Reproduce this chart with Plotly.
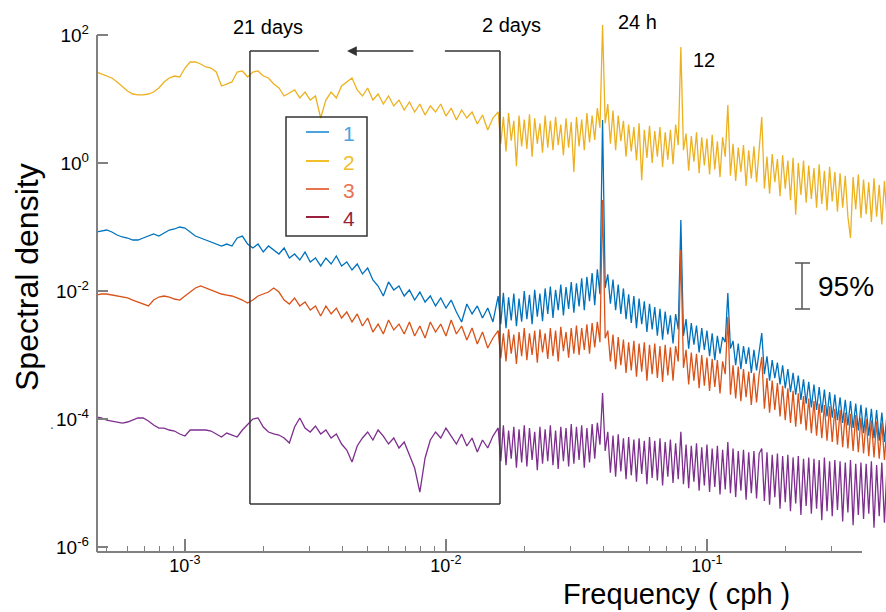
import numpy as np
import plotly.graph_objects as go

# ---------------- data (log10 units) ----------------
# frequency grid, log10(cph): low-frequency part and dense high-frequency part
log_freq_low = [
    -3.34, -3.32, -3.30, -3.28, -3.26, -3.24, -3.22, -3.20, -3.18, -3.16,
    -3.14, -3.12, -3.10, -3.08, -3.06, -3.04, -3.02, -3.00, -2.98, -2.96,
    -2.94, -2.92, -2.90, -2.88, -2.86, -2.84, -2.82, -2.80, -2.78, -2.76,
    -2.74, -2.72, -2.70, -2.68, -2.66, -2.64, -2.62, -2.60, -2.58, -2.56,
    -2.54, -2.52, -2.50, -2.48, -2.46, -2.44, -2.42, -2.40, -2.38, -2.36,
    -2.34, -2.32, -2.30, -2.28, -2.26, -2.24, -2.22, -2.20, -2.18, -2.16,
    -2.14, -2.12, -2.10, -2.08, -2.06, -2.04, -2.02, -2.00, -1.98, -1.96,
    -1.94, -1.92, -1.90, -1.88, -1.86, -1.84, -1.82,
]
log_freq_high = [
    -1.80, -1.79, -1.78, -1.77, -1.76, -1.75, -1.74, -1.73, -1.72, -1.71,
    -1.70, -1.69, -1.68, -1.67, -1.66, -1.65, -1.64, -1.63, -1.62, -1.61,
    -1.60, -1.59, -1.58, -1.57, -1.56, -1.55, -1.54, -1.53, -1.52, -1.51,
    -1.50, -1.49, -1.48, -1.47, -1.46, -1.45, -1.44, -1.43, -1.42, -1.41,
    -1.40, -1.39, -1.38, -1.37, -1.36, -1.35, -1.34, -1.33, -1.32, -1.31,
    -1.30, -1.29, -1.28, -1.27, -1.26, -1.25, -1.24, -1.23, -1.22, -1.21,
    -1.20, -1.19, -1.18, -1.17, -1.16, -1.15, -1.14, -1.13, -1.12, -1.11,
    -1.10, -1.09, -1.08, -1.07, -1.06, -1.05, -1.04, -1.03, -1.02, -1.01,
    -1.00, -0.99, -0.98, -0.97, -0.96, -0.95, -0.94, -0.93, -0.92, -0.91,
    -0.90, -0.89, -0.88, -0.87, -0.86, -0.85, -0.84, -0.83, -0.82, -0.81,
    -0.80, -0.79, -0.78, -0.77, -0.76, -0.75, -0.74, -0.73, -0.72, -0.71,
    -0.70, -0.69, -0.68, -0.67, -0.66, -0.65, -0.64, -0.63, -0.62, -0.61,
    -0.60, -0.59, -0.58, -0.57, -0.56, -0.55, -0.54, -0.53, -0.52, -0.51,
    -0.50, -0.49, -0.48, -0.47, -0.46, -0.45, -0.44, -0.43, -0.42, -0.41,
    -0.40, -0.39, -0.38, -0.37, -0.36, -0.35, -0.34, -0.33, -0.32, -0.31,
    -0.30,
]

# series 1 (blue), log10 spectral density
s1_low = [
    -1.078, -1.063, -1.047, -1.078, -1.125, -1.156, -1.172, -1.203, -1.203, -1.172,
    -1.141, -1.109, -1.141, -1.094, -1.047, -1.031, -1.0, -1.016, -1.078, -1.141,
    -1.172, -1.203, -1.234, -1.266, -1.297, -1.266, -1.297, -1.172, -1.141, -1.266,
    -1.328, -1.266, -1.391, -1.297, -1.359, -1.422, -1.328, -1.484, -1.422, -1.516,
    -1.391, -1.547, -1.484, -1.609, -1.484, -1.578, -1.453, -1.609, -1.547, -1.672,
    -1.578, -1.734, -1.641, -1.828, -1.922, -2.078, -1.859, -1.984, -1.922, -2.078,
    -1.984, -2.141, -2.016, -2.172, -2.078, -2.234, -2.109, -2.266, -2.141, -2.328,
    -2.484, -2.203, -2.359, -2.234, -2.422, -2.266, -2.484,
]
s1_high = [
    -2.08, -2.52, -2.03, -2.58, -2.10, -2.46, -2.04, -2.55, -2.12, -2.48,
    -2.00, -2.44, -2.06, -2.52, -1.98, -2.40, -2.04, -2.47, -1.96, -2.36,
    -1.93, -2.42, -1.98, -2.30, -1.90, -2.38, -1.94, -2.28, -1.86, -2.34,
    -1.88, -2.24, -1.80, -2.30, -1.78, -2.16, -1.72, -2.22, -1.66, -2.05,
    0.672, -1.95, -1.74, -2.20, -1.82, -2.30, -1.90, -2.36, -1.96, -2.44,
    -2.05, -2.50, -2.08, -2.58, -2.12, -2.52, -2.16, -2.64, -2.20, -2.60,
    -2.25, -2.70, -2.28, -2.76, -2.32, -2.68, -2.38, -2.82, -2.36, -2.60,
    -0.891, -2.70, -2.44, -2.90, -2.50, -2.84, -2.54, -2.96, -2.58, -2.92,
    -2.62, -3.02, -2.66, -3.08, -2.70, -2.98, -2.72, -2.80, -2.031, -2.90,
    -2.78, -3.16, -2.82, -3.22, -2.86, -3.14, -2.88, -3.28, -2.92, -3.24,
    -2.95, -2.656, -3.30, -3.02, -3.40, -3.08, -3.36, -3.12, -3.46, -3.16,
    -3.52, -3.22, -3.58, -3.28, -3.62, -3.32, -3.70, -3.38, -3.76, -3.42,
    -3.82, -3.46, -3.86, -3.50, -3.90, -3.54, -3.96, -3.58, -3.98, -3.62,
    -4.02, -3.66, -4.06, -3.70, -4.10, -3.72, -4.14, -3.76, -4.18, -3.78,
    -4.22, -3.82, -4.26, -3.84, -4.30, -3.86, -4.34, -3.90, -4.36, -3.92,
    -4.40,
]

# series 2 (yellow)
s2_low = [
    1.422, 1.391, 1.359, 1.328, 1.266, 1.188, 1.125, 1.078, 1.063, 1.063,
    1.078, 1.109, 1.172, 1.266, 1.328, 1.359, 1.344, 1.484, 1.578, 1.578,
    1.547, 1.5, 1.484, 1.422, 1.203, 1.234, 1.266, 1.422, 1.438, 1.344,
    1.422, 1.438, 1.359, 1.328, 1.234, 1.172, 1.047, 1.094, 1.141, 1.016,
    1.109, 0.984, 1.047, 0.703, 0.984, 1.109, 1.016, 1.203, 1.266, 1.328,
    1.141, 1.047, 1.172, 0.984, 1.078, 0.922, 1.047, 0.891, 0.984, 0.828,
    0.953, 0.797, 0.922, 0.75, 0.891, 0.797, 0.922, 0.734, 0.859, 0.672,
    0.828, 0.703, 0.797, 0.609, 0.75, 0.516, 0.703,
]
s2_high = [
    0.80, 0.30, 0.72, 0.18, 0.78, 0.35, 0.66, -0.05, 0.74, 0.26,
    0.68, 0.22, 0.76, 0.10, 0.70, 0.30, 0.62, 0.16, 0.74, 0.24,
    0.66, 0.20, 0.72, 0.28, 0.60, 0.12, 0.70, 0.24, 0.64, -0.14,
    0.72, 0.26, 0.68, 0.20, 0.78, 0.32, 0.74, 0.36, 0.86, 0.55,
    2.156, 0.62, 0.92, 0.30, 0.82, 0.20, 0.74, 0.34, 0.66, 0.10,
    0.60, 0.18, 0.56, 0.04, 0.62, -0.27, 0.52, 0.08, 0.58, 0.00,
    0.50, 0.10, 0.56, -0.06, 0.48, 0.05, 0.52, -0.02, 0.60, 0.28,
    1.813, 0.20, 0.46, -0.12, 0.42, 0.02, 0.48, -0.16, 0.40, -0.04,
    0.38, -0.18, 0.44, -0.10, 0.34, -0.22, 0.40, 0.10, 0.906, -0.20,
    0.30, -0.28, 0.24, -0.14, 0.28, -0.36, 0.20, -0.24, 0.26, -0.30,
    0.16, 0.719, -0.40, 0.10, -0.48, 0.14, -0.30, 0.06, -0.52, 0.12,
    -0.40, 0.04, -0.58, 0.08, -0.81, 0.00, -0.50, 0.04, -0.62, -0.04,
    -0.56, -0.08, -0.70, -0.02, -0.64, -0.12, -0.74, -0.06, -0.60, -0.14,
    -0.76, -0.16, -0.70, -0.20, -0.84, -1.17, -0.22, -0.72, -0.18, -0.86,
    -0.26, -0.80, -0.30, -0.92, -0.24, -0.84, -0.34, -0.96, -0.28, -0.88,
    -0.40,
]

# series 3 (orange)
s3_low = [
    -2.063, -2.047, -2.047, -2.063, -2.078, -2.094, -2.109, -2.141, -2.172, -2.203,
    -2.234, -2.141, -2.094, -2.078, -2.094, -2.125, -2.141, -2.078, -2.016, -1.953,
    -1.922, -1.953, -1.984, -2.016, -2.047, -2.063, -2.078, -2.109, -2.141, -2.188,
    -2.141, -2.078, -2.047, -2.016, -1.953, -2.016, -2.141, -2.203, -2.109, -2.234,
    -2.172, -2.297, -2.234, -2.391, -2.234, -2.359, -2.266, -2.422, -2.328, -2.484,
    -2.359, -2.547, -2.422, -2.641, -2.516, -2.672, -2.453, -2.609, -2.516, -2.672,
    -2.484, -2.703, -2.547, -2.734, -2.484, -2.641, -2.516, -2.703, -2.453, -2.672,
    -2.547, -2.766, -2.578, -2.828, -2.641, -2.891, -2.734,
]
s3_high = [
    -2.62, -3.05, -2.66, -3.10, -2.60, -2.98, -2.68, -3.14, -2.64, -3.02,
    -2.58, -3.08, -2.66, -3.00, -2.62, -3.12, -2.60, -2.96, -2.66, -3.06,
    -2.58, -3.02, -2.62, -3.10, -2.56, -2.94, -2.64, -3.04, -2.58, -2.98,
    -2.54, -3.00, -2.58, -2.92, -2.52, -2.98, -2.50, -2.88, -2.48, -2.80,
    -0.578, -2.74, -2.62, -3.10, -2.68, -3.22, -2.72, -3.16, -2.76, -3.28,
    -2.80, -3.24, -2.78, -3.34, -2.82, -3.26, -2.80, -3.40, -2.84, -3.30,
    -2.82, -3.36, -2.86, -3.42, -2.84, -3.32, -2.88, -3.40, -2.86, -3.10,
    -1.359, -3.20, -2.92, -3.46, -2.96, -3.40, -2.98, -3.52, -3.00, -3.48,
    -3.04, -3.56, -3.06, -3.50, -3.08, -3.60, -3.10, -3.30, -2.406, -3.62,
    -3.16, -3.68, -3.18, -3.72, -3.22, -3.66, -3.26, -3.78, -3.28, -3.74,
    -3.30, -3.031, -3.84, -3.36, -3.90, -3.40, -3.86, -3.44, -3.96, -3.48,
    -4.02, -3.52, -4.06, -3.56, -4.12, -3.60, -4.08, -3.64, -4.18, -3.68,
    -4.22, -3.72, -4.26, -3.76, -4.30, -3.78, -4.34, -3.80, -4.36, -3.84,
    -4.40, -3.86, -4.44, -3.90, -4.46, -3.92, -4.50, -3.94, -4.52, -3.98,
    -4.54, -4.00, -4.58, -4.02, -4.60, -4.04, -4.62, -4.06, -4.64, -4.08,
    -4.66,
]

# series 4 (purple)
s4_low = [
    -3.969, -3.984, -4.016, -4.031, -4.047, -4.063, -4.047, -4.016, -3.984, -3.984,
    -4.031, -4.094, -4.141, -4.141, -4.172, -4.188, -4.234, -4.266, -4.172, -4.172,
    -4.172, -4.172, -4.188, -4.234, -4.281, -4.219, -4.25, -4.281, -4.172, -4.078,
    -4.0, -3.984, -4.125, -4.203, -4.234, -4.25, -4.297, -4.375, -4.125, -3.984,
    -4.141, -4.203, -4.109, -4.234, -4.172, -4.297, -4.234, -4.391, -4.484, -4.672,
    -4.422, -4.297, -4.203, -4.328, -4.172, -4.266, -4.391, -4.297, -4.453, -4.359,
    -4.578, -4.766, -5.141, -4.609, -4.328, -4.203, -4.297, -4.141, -4.266, -4.391,
    -4.234, -4.422, -4.297, -4.516, -4.328, -4.453, -4.266,
]
s4_high = [
    -4.14, -4.66, -4.10, -4.72, -4.18, -4.62, -4.12, -4.76, -4.16, -4.68,
    -4.10, -4.74, -4.14, -4.64, -4.20, -4.80, -4.12, -4.70, -4.16, -4.66,
    -4.10, -4.72, -4.18, -4.78, -4.12, -4.66, -4.14, -4.74, -4.08, -4.70,
    -4.12, -4.64, -4.10, -4.76, -4.14, -4.68, -4.08, -4.62, -4.06, -4.40,
    -3.594, -4.50, -4.20, -4.84, -4.26, -4.90, -4.24, -4.82, -4.30, -4.94,
    -4.28, -4.88, -4.32, -4.98, -4.30, -4.86, -4.34, -5.02, -4.28, -4.92,
    -4.34, -4.96, -4.30, -5.04, -4.36, -4.90, -4.32, -5.00, -4.38, -4.94,
    -4.20, -5.02, -4.40, -5.08, -4.42, -4.98, -4.38, -5.12, -4.44, -5.04,
    -4.40, -5.14, -4.46, -5.06, -4.42, -5.18, -4.48, -5.10, -4.36, -5.16,
    -4.46, -5.22, -4.50, -5.12, -4.48, -5.26, -4.52, -5.16, -4.50, -5.24,
    -4.54, -4.46, -5.28, -4.52, -5.34, -4.56, -5.22, -4.54, -5.40, -4.58,
    -5.30, -4.56, -5.44, -4.60, -5.32, -4.58, -5.50, -4.62, -5.36, -4.60,
    -5.48, -4.62, -5.40, -4.64, -5.58, -4.60, -5.44, -4.66, -5.52, -4.64,
    -5.42, -4.66, -5.60, -4.68, -5.46, -4.64, -5.66, -4.70, -5.50, -4.68,
    -5.56, -4.70, -5.48, -4.66, -5.70, -4.72, -5.52, -4.68, -5.62, -4.72,
    -5.50,
]

series_names = ["1", "2", "3", "4"]
line_colors = {"1": "#0072BD", "2": "#EDB120", "3": "#D95319", "4": "#7E2F8E"}
legend_colors = {"1": "#4DA3E0", "2": "#F2BE2C", "3": "#E8734F", "4": "#9A1F3C"}

x_tick_vals = [1e-3, 1e-2, 1e-1]
x_tick_text = ["10<sup>-3</sup>", "10<sup>-2</sup>", "10<sup>-1</sup>"]
x_minor_vals = [5e-4, 6e-4, 7e-4, 8e-4, 9e-4,
                2e-3, 3e-3, 4e-3, 5e-3, 6e-3, 7e-3, 8e-3, 9e-3,
                2e-2, 3e-2, 4e-2, 5e-2, 6e-2, 7e-2, 8e-2, 9e-2,
                2e-1, 3e-1]
y_tick_vals = [1e-6, 1e-4, 1e-2, 1e0, 1e2]
y_tick_text = ["10<sup>-6</sup>", "10<sup>-4</sup>", "10<sup>-2</sup>",
               "10<sup>0</sup>", "10<sup>2</sup>"]

# window of periods 21 days .. 2 days (log10 cph) and its vertical extent (log10 density)
box_log_f = [-2.751, -1.793]
box_log_s = [-5.328, 1.75]
top_gap_log_f = [-2.487, -2.379, -2.119, -2.004]

FONT = "Arial, Liberation Sans, Helvetica, sans-serif"
AX = "#808080"

freq = 10 ** np.array(log_freq_low + log_freq_high)
values = {"1": s1_low + s1_high, "2": s2_low + s2_high,
          "3": s3_low + s3_high, "4": s4_low + s4_high}

fig = go.Figure()
for name in ["2", "1", "3", "4"]:
    fig.add_trace(go.Scatter(
        x=freq, y=10 ** np.array(values[name]), mode="lines", name=name,
        line=dict(color=line_colors[name], width=1.3), showlegend=False,
        hoverinfo="skip"))

xmin_log, xmax_log = -3.337, -0.314
ymin_log, ymax_log = -6.078, 2.25

fig.update_layout(
    width=886, height=612,
    margin=dict(l=97, r=0, t=19, b=60),
    paper_bgcolor="white", plot_bgcolor="white",
    font=dict(family=FONT, color="black"),
    showlegend=False,
    xaxis=dict(type="log", range=[xmin_log, xmax_log], showgrid=False, zeroline=False,
               showline=False, tickmode="array", tickvals=x_tick_vals, ticktext=x_tick_text,
               ticks="inside", ticklen=13, tickwidth=1.5, tickcolor=AX,
               ticklabelstandoff=1,
               tickfont=dict(size=18, family=FONT, color="black"),
               minor=dict(tickvals=x_minor_vals, ticks="inside", ticklen=6,
                          tickwidth=1.3, tickcolor=AX, showgrid=False)),
    yaxis=dict(type="log", range=[ymin_log, ymax_log], showgrid=False, zeroline=False,
               showline=False, tickmode="array", tickvals=y_tick_vals, ticktext=y_tick_text,
               ticks="inside", ticklen=11, tickwidth=1.5, tickcolor=AX,
               ticklabelstandoff=7,
               tickfont=dict(size=19, family=FONT, color="black")),
)

shapes = []
# axis lines
shapes.append(dict(type="line", xref="paper", yref="paper", x0=0, x1=0, y0=0,
                   y1=(2 - ymin_log) / (ymax_log - ymin_log),
                   line=dict(color=AX, width=2)))
shapes.append(dict(type="line", xref="paper", yref="paper", x0=0,
                   x1=(-0.406 - xmin_log) / (xmax_log - xmin_log), y0=0, y1=0,
                   line=dict(color=AX, width=2)))
# window box (data coordinates)
bx0, bx1 = 10 ** box_log_f[0], 10 ** box_log_f[1]
by0, by1 = 10 ** box_log_s[0], 10 ** box_log_s[1]
box_line = dict(color="#333333", width=1.5)
shapes += [
    dict(type="line", xref="x", yref="y", x0=bx0, x1=bx0, y0=by0, y1=by1, line=box_line),
    dict(type="line", xref="x", yref="y", x0=bx1, x1=bx1, y0=by0, y1=by1, line=box_line),
    dict(type="line", xref="x", yref="y", x0=bx0, x1=bx1, y0=by0, y1=by0, line=box_line),
    dict(type="line", xref="x", yref="y", x0=bx0, x1=10 ** top_gap_log_f[0], y0=by1, y1=by1, line=box_line),
    dict(type="line", xref="x", yref="y", x0=10 ** top_gap_log_f[3], x1=bx1, y0=by1, y1=by1, line=box_line),
]


def px2paper_x(px):
    return (px - 97) / 789.0


def px2paper_y(py):
    return (552 - py) / 533.0


# legend (paper coordinates)
shapes.append(dict(type="rect", xref="paper", yref="paper",
                   x0=px2paper_x(286), x1=px2paper_x(367),
                   y0=px2paper_y(236), y1=px2paper_y(117),
                   line=dict(color="#333333", width=1.5)))
legend_rows = [132, 161, 189, 217]
annotations = []
for name, row in zip(series_names, legend_rows):
    shapes.append(dict(type="line", xref="paper", yref="paper",
                       x0=px2paper_x(306), x1=px2paper_x(329),
                       y0=px2paper_y(row), y1=px2paper_y(row),
                       line=dict(color=legend_colors[name], width=2)))
    annotations.append(dict(xref="paper", yref="paper", x=px2paper_x(349), y=px2paper_y(row + 1),
                            text=name, showarrow=False, xanchor="center", yanchor="middle",
                            font=dict(size=21, color=legend_colors[name], family=FONT)))

# 95% bar
shapes += [
    dict(type="line", xref="paper", yref="paper", x0=px2paper_x(802), x1=px2paper_x(802),
         y0=px2paper_y(309), y1=px2paper_y(263), line=dict(color="#555555", width=1.5)),
    dict(type="line", xref="paper", yref="paper", x0=px2paper_x(795), x1=px2paper_x(810),
         y0=px2paper_y(263), y1=px2paper_y(263), line=dict(color="#555555", width=1.5)),
    dict(type="line", xref="paper", yref="paper", x0=px2paper_x(795), x1=px2paper_x(810),
         y0=px2paper_y(309), y1=px2paper_y(309), line=dict(color="#555555", width=1.5)),
]

# arrow in the top gap of the box (annotation: log coordinates)
annotations.append(dict(xref="x", yref="y", axref="x", ayref="y",
                        x=top_gap_log_f[1], y=box_log_s[1],
                        ax=top_gap_log_f[2], ay=box_log_s[1],
                        text="", showarrow=True, arrowhead=2, arrowsize=1.3,
                        arrowwidth=1.5, arrowcolor="#333333", standoff=0, startstandoff=0))


def txt(x, y, s, size, **kw):
    d = dict(xref="paper", yref="paper", x=px2paper_x(x), y=px2paper_y(y), text=s,
             showarrow=False, xanchor="center", yanchor="middle",
             font=dict(size=size, color="black", family=FONT))
    d.update(kw)
    return d


annotations += [
    txt(268, 27, "21 days", 20),
    txt(511, 25, "2 days", 20),
    txt(637, 22, "24 h", 20),
    txt(704, 60, "12", 20),
    txt(846, 286, "95%", 28),
    txt(676, 594, "Frequency ( cph )", 29),
    txt(27, 277, "Spectral density", 32, textangle=-90),
    dict(xref="paper", yref="paper", x=px2paper_x(48), y=px2paper_y(434), text=".",
         showarrow=False, font=dict(size=14, color="#555555", family=FONT)),
]

fig.update_layout(shapes=shapes, annotations=annotations)
fig.write_html("out.html", config={"displayModeBar": False},
               post_script="document.body.style.margin='0';")
